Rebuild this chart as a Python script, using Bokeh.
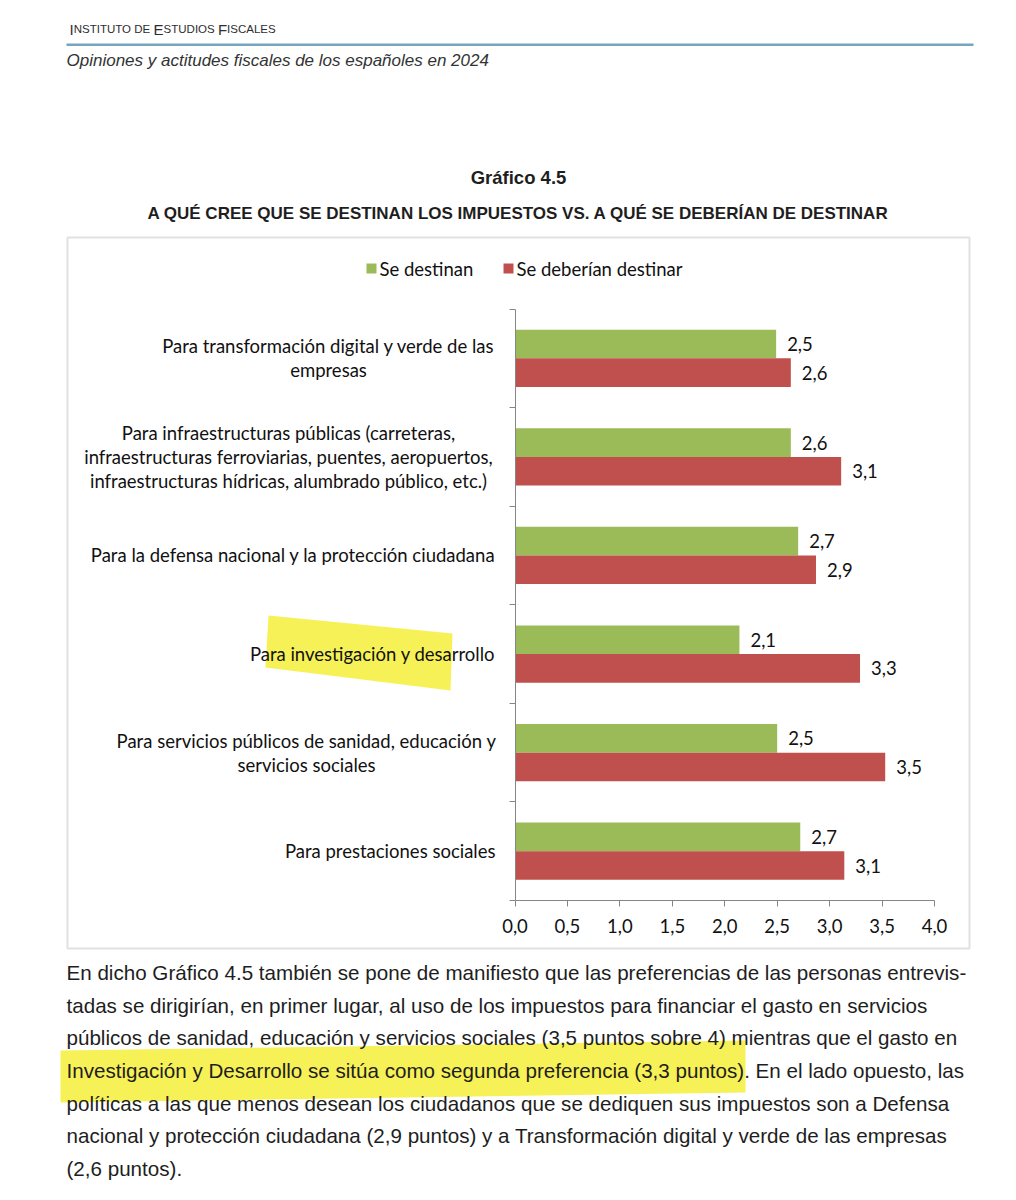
from bokeh.plotting import figure
from bokeh.models import (ColumnDataSource, Range1d, LinearAxis, FixedTicker,
                          CustomJSTickFormatter, Label, LabelSet, PolyAnnotation)
from bokeh.transform import dodge
from bokeh.core.properties import value
from bokeh.embed import file_html
from bokeh.resources import INLINE

# ---------------- data ----------------
categories = [
    "Para transformación digital y verde de las\nempresas",
    "Para infraestructuras públicas (carreteras,\ninfraestructuras ferroviarias, puentes, aeropuertos,\ninfraestructuras hídricas, alumbrado público, etc.)",
    "Para la defensa nacional y la protección ciudadana",
    "Para investigación y desarrollo",
    "Para servicios públicos de sanidad, educación y\nservicios sociales",
    "Para prestaciones sociales",
]
se_destinan = [2.49, 2.63, 2.70, 2.14, 2.50, 2.72]
se_deberian = [2.63, 3.11, 2.87, 3.29, 3.53, 3.14]
series_names = ["Se destinan", "Se deberían destinar"]
x_ticks = [0.0, 0.5, 1.0, 1.5, 2.0, 2.5, 3.0, 3.5, 4.0]

header_sub = "Opiniones y actitudes fiscales de los españoles en 2024"
chart_number = "Gráfico 4.5"
chart_title = "A QUÉ CREE QUE SE DESTINAN LOS IMPUESTOS VS. A QUÉ SE DEBERÍAN DE DESTINAR"
paragraph = [
    "En dicho Gráfico 4.5 también se pone de manifiesto que las preferencias de las personas entrevis-",
    "tadas se dirigirían, en primer lugar, al uso de los impuestos para financiar el gasto en servicios",
    "públicos de sanidad, educación y servicios sociales (3,5 puntos sobre 4) mientras que el gasto en",
    "Investigación y Desarrollo se sitúa como segunda preferencia (3,3 puntos). En el lado opuesto, las",
    "políticas a las que menos desean los ciudadanos que se dediquen sus impuestos son a Defensa",
    "nacional y protección ciudadana (2,9 puntos) y a Transformación digital y verde de las empresas",
    "(2,6 puntos).",
]

# ---------------- style / layout ----------------
GREEN = "#9bbb59"
RED = "#c0504d"
AXIS = "#868686"
CHART_FONT = "Lato"
CHART_FS = "18.5px"
DOC_FONT = "Liberation Sans"

W, H = 1000, 1184
n = len(categories)
X0, X4 = 514.5, 934.0        # canvas px of value 0 and value 4
Y_BOT, Y_TOP = 900.0, 308.5  # canvas px of the category axis ends
PXU = (X4 - X0) / 4.0
PYU = (Y_BOT - Y_TOP) / n


def dx(px):
    return (px - X0) / PXU


def dy(py):
    return (Y_BOT - py) / PYU


# category slots: first category on top, one unit per slot
slot = [n - i - 0.5 for i in range(n)]

src = ColumnDataSource(dict(
    cat=categories,
    slot=slot,
    dest=se_destinan,
    deb=se_deberian,
    dest_txt=[("%.1f" % v).replace(".", ",") for v in se_destinan],
    deb_txt=[("%.1f" % v).replace(".", ",") for v in se_deberian],
))

p = figure(width=W, height=H,
           x_range=Range1d(dx(0), dx(W)),
           y_range=Range1d(dy(H), dy(0)),
           output_backend="svg", toolbar_location=None,
           x_axis_location=None, y_axis_location=None,
           min_border=0, min_border_left=0, min_border_right=0,
           min_border_top=0, min_border_bottom=0,
           outline_line_color=None,
           background_fill_color="white", border_fill_color="white")
p.grid.visible = False

# highlighter marks (drawn first so the text sits on top, like a marker pen)
hl = [([268, 452, 450, 265], [615, 633, 690, 667]),
      ([60, 745, 745, 60], [1050, 1040, 1092, 1102])]
for xs, ys in hl:
    p.add_layout(PolyAnnotation(xs=[dx(v) for v in xs], ys=[dy(v) for v in ys],
                                fill_color="#f5ee2e", fill_alpha=0.8, line_color=None))

OFF = 0.145
BH = 0.29
p.hbar(y=dodge("slot", OFF), left=0, right="dest", height=BH,
       source=src, fill_color=GREEN, line_color=None)
p.hbar(y=dodge("slot", -OFF), left=0, right="deb", height=BH,
       source=src, fill_color=RED, line_color=None)

for col, off in (("dest", OFF), ("deb", -OFF)):
    p.add_layout(LabelSet(x=col, y=dodge("slot", off), text=col + "_txt",
                          source=src, x_offset=11, text_baseline="middle",
                          text_font=value(CHART_FONT), text_font_size=value(CHART_FS),
                          text_color="#111111"))

# x axis (value axis)
xa = LinearAxis(fixed_location=0, bounds=(0, 4),
                ticker=FixedTicker(ticks=x_ticks),
                formatter=CustomJSTickFormatter(code="return tick.toFixed(1).replace('.', ',')"),
                axis_line_color=AXIS, major_tick_line_color=AXIS,
                major_tick_in=0, major_tick_out=6, minor_tick_line_color=None,
                major_label_standoff=12, major_label_text_font=CHART_FONT,
                major_label_text_font_size=CHART_FS, major_label_text_color="#111111")
p.add_layout(xa, "below")

# y axis: line with ticks at category boundaries
ya = LinearAxis(fixed_location=0, bounds=(0, n),
                ticker=FixedTicker(ticks=list(range(n + 1))),
                formatter=CustomJSTickFormatter(code="return ''"),
                axis_line_color=AXIS, major_tick_line_color=AXIS,
                major_tick_in=0, major_tick_out=6, minor_tick_line_color=None,
                major_label_text_font_size="1px")
p.add_layout(ya, "left")

# category labels
RIGHT_EDGE = 495
cat_centers = [328, 288, None, None, 306, None]
LINE_H = 24
for i, (cat, cx) in enumerate(zip(categories, cat_centers)):
    lines = cat.split("\n")
    for j, ln in enumerate(lines):
        off = (j - (len(lines) - 1) / 2) * LINE_H / PYU
        if cx is None:
            x, align = dx(RIGHT_EDGE), "right"
        else:
            x, align = dx(cx), "center"
        p.add_layout(Label(x=x, y=slot[i] - off, text=ln, text_align=align,
                           text_baseline="middle", text_font=CHART_FONT,
                           text_font_size=CHART_FS, text_color="#111111"))

# legend (manual)
leg = [(366, 379, GREEN, series_names[0]), (503, 516, RED, series_names[1])]
for x0, tx, c, name in leg:
    p.add_layout(PolyAnnotation(xs=[dx(x0), dx(x0 + 10), dx(x0 + 10), dx(x0)],
                                ys=[dy(263), dy(263), dy(273), dy(273)],
                                fill_color=c, fill_alpha=1, line_color=None))
    p.add_layout(Label(x=dx(tx), y=dy(268), text=name, text_baseline="middle",
                       text_font=CHART_FONT, text_font_size=CHART_FS, text_color="#111111"))

# chart border box
p.add_layout(PolyAnnotation(xs=[dx(67), dx(969), dx(969), dx(67)],
                            ys=[dy(237), dy(237), dy(948), dy(948)],
                            fill_alpha=0, line_color="#9d9d9d", line_width=2))

# header (small caps built from two sizes)
HDR_BASE = 28.5
hdr_parts = [("I", 69, "15px"), ("NSTITUTO DE", 73.2, "11.5px"), ("E", 153.1, "15px"),
             ("STUDIOS", 163.1, "11.5px"), ("F", 217.4, "15px"), ("ISCALES", 226.6, "11.5px")]
for t, x0, fs in hdr_parts:
    p.add_layout(Label(x=dx(x0), y=dy(HDR_BASE), text=t, text_baseline="alphabetic",
                       text_font=DOC_FONT, text_font_size=fs, text_color="#2e2e2e"))
p.add_layout(PolyAnnotation(xs=[dx(66), dx(973), dx(973), dx(66)],
                            ys=[dy(43), dy(43), dy(45.5), dy(45.5)],
                            fill_color="#74a6bc", fill_alpha=1, line_color=None))
p.add_layout(Label(x=dx(66), y=dy(60), text=header_sub, text_baseline="alphabetic",
                   text_font=DOC_FONT, text_font_style="italic", text_font_size="17px",
                   text_color="#333333"))

# titles
p.add_layout(Label(x=dx(518), y=dy(177), text=chart_number, text_align="center",
                   text_baseline="middle", text_font=DOC_FONT, text_font_style="bold",
                   text_font_size="18.5px", text_color="#1e1e1e"))
p.add_layout(Label(x=dx(518), y=dy(213), text=chart_title, text_align="center",
                   text_baseline="middle", text_font=DOC_FONT, text_font_style="bold",
                   text_font_size="17px", text_color="#1e1e1e"))

# paragraph
for k, ln in enumerate(paragraph):
    p.add_layout(Label(x=dx(66), y=dy(972 + k * 32.67), text=ln, text_baseline="middle",
                       text_font=DOC_FONT, text_font_size="20.6px", text_color="#1e1e1e"))

open("out.html", "w").write(file_html(p, INLINE))
